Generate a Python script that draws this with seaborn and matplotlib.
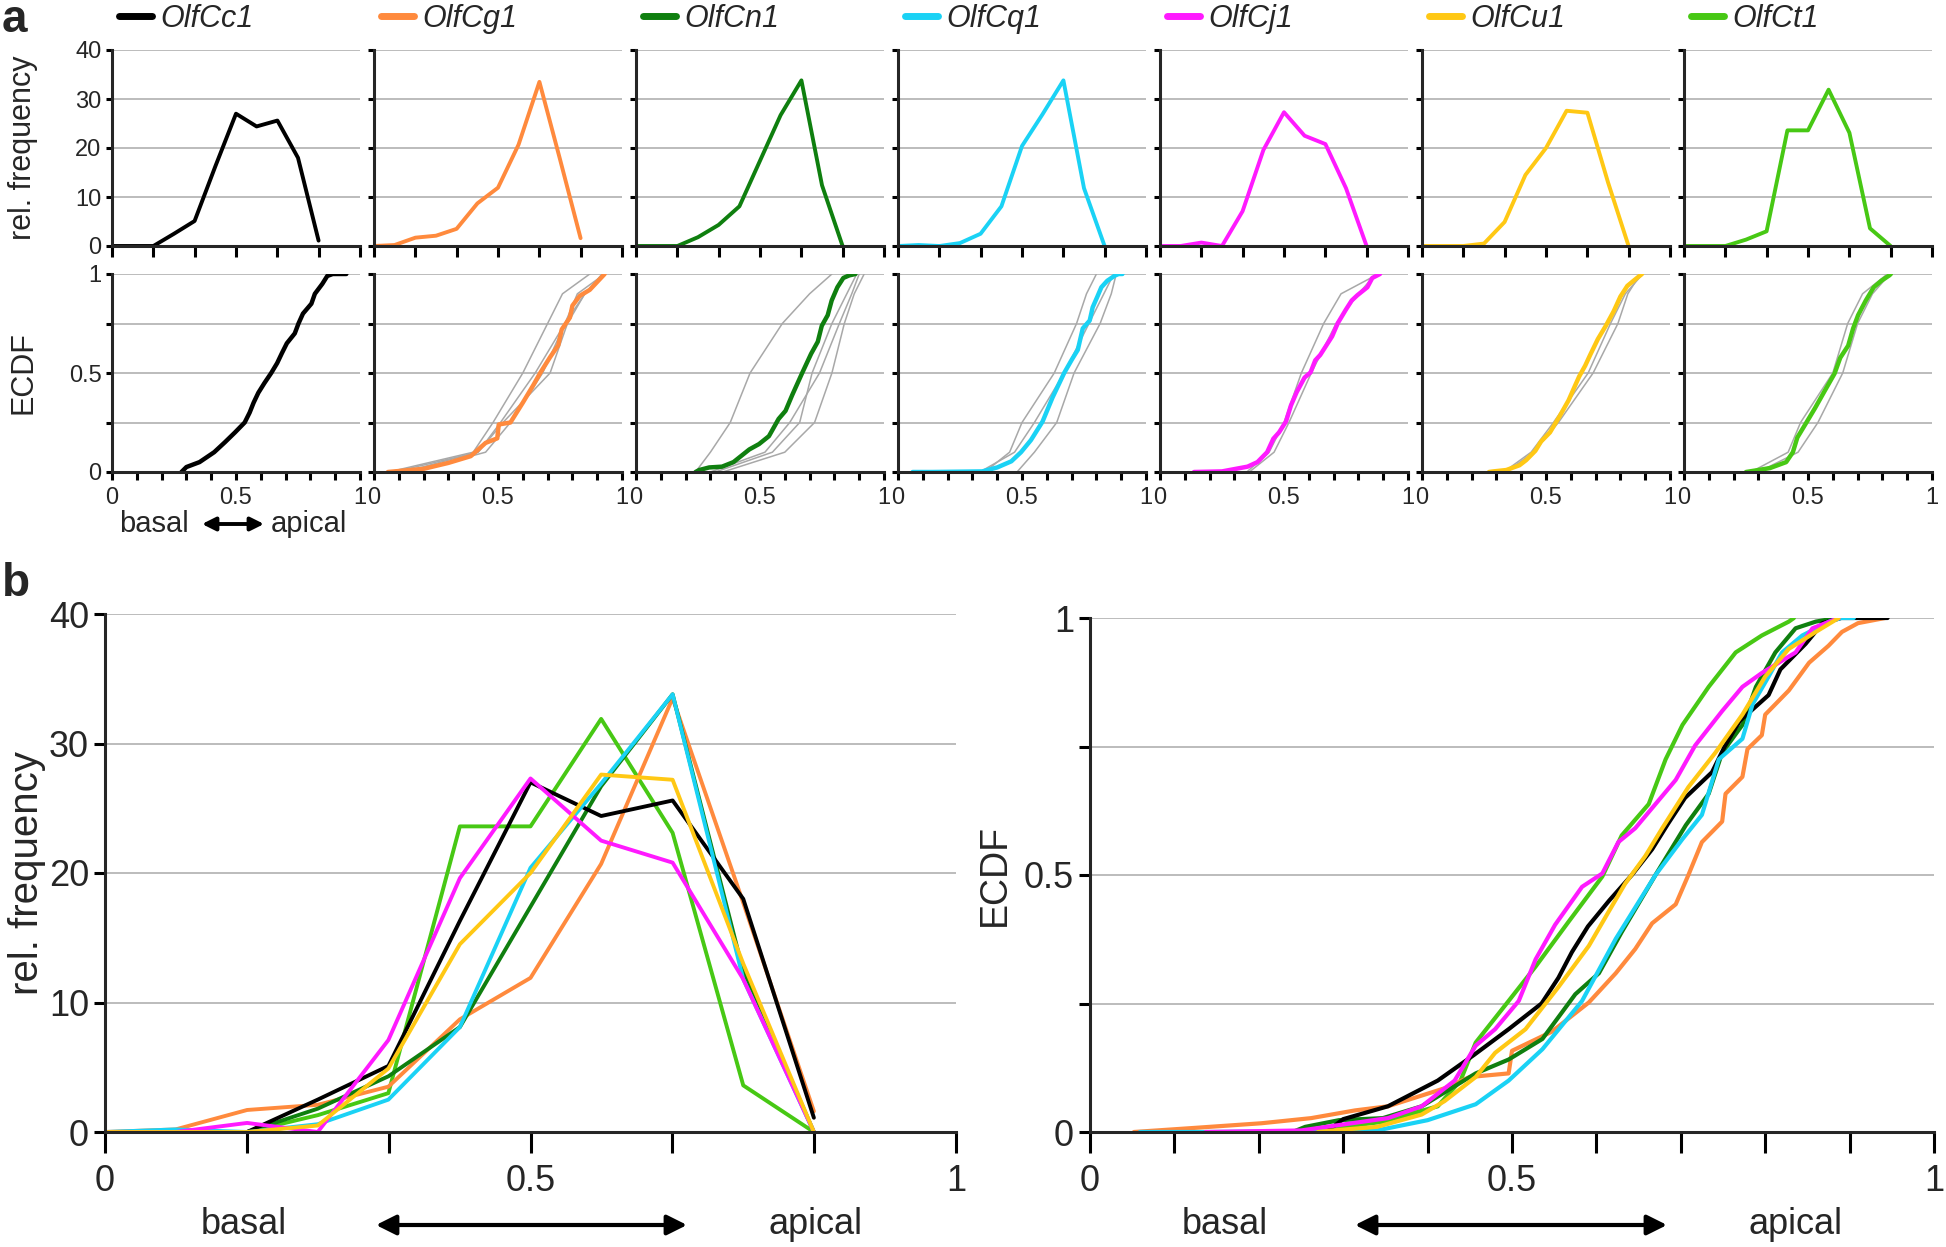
"""Olfactory receptor expression along the basal-apical axis: rel. frequency and ECDF."""
import matplotlib
matplotlib.use("Agg")
import matplotlib.pyplot as plt
import numpy as np
import pandas as pd
import seaborn as sns
from matplotlib.lines import Line2D

GENES = ["OlfCc1", "OlfCg1", "OlfCn1", "OlfCq1", "OlfCj1", "OlfCu1", "OlfCt1"]
COLORS = ["#000000", "#ff8a3d", "#0f7f0f", "#1ad2f5", "#ff1aff", "#ffc814", "#47c814"]
# drawing order of the overlaid panel b curves
B_ORDER = ["OlfCt1", "OlfCg1", "OlfCn1", "OlfCc1", "OlfCq1", "OlfCj1", "OlfCu1"]

# relative frequency per bin (basal 0 -> apical 1)
BIN_POS = [0.0, 0.083, 0.167, 0.25, 0.333, 0.417, 0.5, 0.583, 0.667, 0.75, 0.833]
FREQ_CC1 = [0, 0, 0, 2.5, 5.1, 16.3, 27.0, 24.4, 25.6, 18.0, 1.1]
FREQ_CG1 = [0, 0.2, 1.7, 2.1, 3.5, 8.7, 11.9, 20.7, 33.5, 17.7, 1.6]
FREQ_CN1 = [0, 0, 0, 1.8, 4.3, 8.1, 17.4, 26.7, 33.8, 12.4, 0]
FREQ_CQ1 = [0, 0.2, 0, 0.6, 2.5, 8.1, 20.4, 26.9, 33.8, 11.8, 0]
FREQ_CJ1 = [0, 0, 0.7, 0, 7.1, 19.6, 27.3, 22.5, 20.8, 11.8, 0]
FREQ_CU1 = [0, 0, 0, 0.5, 4.9, 14.5, 20.0, 27.6, 27.2, 13.0, 0]
FREQ_CT1 = [0, 0, 0, 1.3, 3.0, 23.6, 23.6, 31.9, 23.1, 3.6, 0]

# pooled ECDFs (knots)
ECDF_X_CC1 = [0.28, 0.30, 0.353, 0.412, 0.455, 0.496, 0.535, 0.555, 0.571, 0.59, 0.615, 0.642,
              0.666, 0.685, 0.705, 0.737, 0.752, 0.77, 0.804, 0.818, 0.848, 0.868, 0.89, 0.945]
ECDF_Y_CC1 = [0.0, 0.025, 0.05, 0.10, 0.15, 0.20, 0.25, 0.30, 0.35, 0.40, 0.45, 0.50,
              0.55, 0.60, 0.65, 0.70, 0.75, 0.80, 0.85, 0.90, 0.95, 0.99, 1.0, 1.0]
ECDF_X_CG1 = [0.052, 0.124, 0.203, 0.262, 0.314, 0.353, 0.42, 0.45, 0.496, 0.50, 0.547, 0.591,
              0.623, 0.646, 0.666, 0.694, 0.709, 0.725, 0.749, 0.753, 0.773, 0.779, 0.796, 0.80,
              0.828, 0.852, 0.875, 0.891, 0.91, 0.942]
ECDF_Y_CG1 = [0.0, 0.008, 0.017, 0.027, 0.042, 0.05, 0.085, 0.107, 0.114, 0.158, 0.195, 0.252,
              0.309, 0.356, 0.406, 0.443, 0.50, 0.564, 0.604, 0.658, 0.691, 0.745, 0.772, 0.812,
              0.859, 0.913, 0.946, 0.973, 0.99, 1.0]
ECDF_X_CN1 = [0.24, 0.255, 0.295, 0.347, 0.393, 0.457, 0.496, 0.536, 0.575, 0.603, 0.63, 0.67,
              0.706, 0.733, 0.749, 0.773, 0.789, 0.812, 0.836, 0.86, 0.885]
ECDF_Y_CN1 = [0.0, 0.01, 0.023, 0.027, 0.05, 0.114, 0.141, 0.181, 0.268, 0.309, 0.389, 0.50,
              0.597, 0.658, 0.738, 0.792, 0.866, 0.933, 0.98, 0.993, 1.0]
ECDF_X_CQ1 = [0.059, 0.137, 0.34, 0.40, 0.457, 0.496, 0.536, 0.583, 0.623, 0.67, 0.702, 0.725,
              0.745, 0.773, 0.785, 0.804, 0.82, 0.844, 0.876, 0.89, 0.905]
ECDF_Y_CQ1 = [0.0, 0.0, 0.003, 0.023, 0.054, 0.10, 0.161, 0.255, 0.376, 0.50, 0.57, 0.617,
              0.725, 0.765, 0.832, 0.886, 0.933, 0.966, 0.993, 1.0, 1.0]
ECDF_X_CJ1 = [0.137, 0.25, 0.353, 0.393, 0.432, 0.457, 0.48, 0.508, 0.528, 0.551, 0.583, 0.607,
              0.626, 0.646, 0.67, 0.694, 0.717, 0.749, 0.773, 0.796, 0.836, 0.856, 0.887]
ECDF_Y_CJ1 = [0.0, 0.003, 0.027, 0.05, 0.10, 0.168, 0.20, 0.255, 0.336, 0.403, 0.477, 0.503,
              0.564, 0.591, 0.638, 0.685, 0.752, 0.819, 0.866, 0.893, 0.933, 0.98, 1.0]
ECDF_X_CU1 = [0.27, 0.288, 0.34, 0.393, 0.42, 0.457, 0.48, 0.516, 0.555, 0.591, 0.615, 0.634,
              0.658, 0.678, 0.709, 0.741, 0.773, 0.80, 0.828, 0.86, 0.887]
ECDF_Y_CU1 = [0.0, 0.003, 0.01, 0.034, 0.06, 0.107, 0.154, 0.20, 0.282, 0.362, 0.43, 0.483,
              0.537, 0.591, 0.671, 0.738, 0.812, 0.886, 0.94, 0.973, 1.0]
ECDF_X_CT1 = [0.25, 0.30, 0.347, 0.412, 0.439, 0.457, 0.496, 0.528, 0.567, 0.607, 0.63, 0.662,
              0.682, 0.702, 0.733, 0.765, 0.796, 0.828, 0.834]
ECDF_Y_CT1 = [0.0, 0.01, 0.02, 0.05, 0.10, 0.174, 0.255, 0.322, 0.409, 0.497, 0.577, 0.638,
              0.725, 0.792, 0.866, 0.933, 0.966, 0.993, 1.0]

# OlfCg1 in panel a is drawn from a slightly different curve
ECDF_A_X_CG1 = [0.056, 0.20, 0.30, 0.39, 0.45, 0.497, 0.503, 0.55, 0.60, 0.643, 0.67, 0.71,
                0.743, 0.757, 0.79, 0.80, 0.83, 0.87, 0.93]
ECDF_A_Y_CG1 = [0.0, 0.016, 0.046, 0.08, 0.147, 0.17, 0.24, 0.25, 0.35, 0.44, 0.50, 0.58,
                0.64, 0.72, 0.78, 0.84, 0.89, 0.92, 1.0]

# individual replicates (grey), x position at each ECDF level
GRAY_LEVELS = [0.0, 0.1, 0.25, 0.5, 0.75, 0.9, 1.0]
GRAY_CC1 = []
GRAY_CG1 = [[0.06, 0.40, 0.48, 0.60, 0.70, 0.76, 0.87],
            [0.08, 0.42, 0.51, 0.65, 0.77, 0.82, 0.93],
            [0.12, 0.42, 0.52, 0.71, 0.78, 0.85, 0.92],
            [0.15, 0.45, 0.55, 0.68, 0.77, 0.85, 0.93]]
GRAY_CN1 = [[0.24, 0.30, 0.38, 0.46, 0.59, 0.70, 0.79],
            [0.32, 0.55, 0.66, 0.71, 0.79, 0.85, 0.89],
            [0.35, 0.60, 0.72, 0.79, 0.84, 0.88, 0.92],
            [0.30, 0.52, 0.62, 0.74, 0.82, 0.87, 0.90]]
GRAY_CQ1 = [[0.35, 0.45, 0.50, 0.63, 0.72, 0.76, 0.80],
            [0.48, 0.55, 0.64, 0.71, 0.815, 0.86, 0.88],
            [0.33, 0.47, 0.55, 0.67, 0.77, 0.83, 0.87]]
GRAY_CJ1 = [[0.35, 0.44, 0.50, 0.57, 0.66, 0.73, 0.88],
            [0.36, 0.46, 0.52, 0.61, 0.71, 0.80, 0.87]]
GRAY_CU1 = [[0.34, 0.45, 0.55, 0.69, 0.79, 0.83, 0.88],
            [0.33, 0.44, 0.53, 0.67, 0.76, 0.82, 0.89]]
GRAY_CT1 = [[0.27, 0.42, 0.47, 0.60, 0.66, 0.72, 0.82],
            [0.30, 0.46, 0.54, 0.64, 0.70, 0.76, 0.83]]

FREQS = [FREQ_CC1, FREQ_CG1, FREQ_CN1, FREQ_CQ1, FREQ_CJ1, FREQ_CU1, FREQ_CT1]
ECDF_X = [ECDF_X_CC1, ECDF_X_CG1, ECDF_X_CN1, ECDF_X_CQ1, ECDF_X_CJ1, ECDF_X_CU1, ECDF_X_CT1]
ECDF_Y = [ECDF_Y_CC1, ECDF_Y_CG1, ECDF_Y_CN1, ECDF_Y_CQ1, ECDF_Y_CJ1, ECDF_Y_CU1, ECDF_Y_CT1]
GRAYS = [GRAY_CC1, GRAY_CG1, GRAY_CN1, GRAY_CQ1, GRAY_CJ1, GRAY_CU1, GRAY_CT1]

W, H = 1946, 1247
GRID_COLOR = "#bcbcbc"
SPINE_W = 2.2

sns.set_style("ticks")
plt.rcParams["font.family"] = ["Liberation Sans", "DejaVu Sans"]
plt.rcParams["axes.linewidth"] = SPINE_W


def px_rect(x0, y_top, w, h):
    """Axes rectangle from pixel coordinates (origin top left)."""
    return [x0 / W, 1 - (y_top + h) / H, w / W, h / H]


def style_axes(ax, tick_size, tick_len):
    sns.despine(ax=ax)
    ax.yaxis.grid(True, color=GRID_COLOR, lw=1.4)
    ax.set_axisbelow(True)
    ax.tick_params(axis="both", which="both", direction="out", width=SPINE_W,
                   labelsize=tick_size, color="black")
    ax.tick_params(axis="x", which="both", length=tick_len)
    ax.tick_params(axis="y", which="both", length=4)
    ax.set_xlabel("")
    ax.set_ylabel("")


def set_ylabel_px(ax, text, size, right_px, ax_left, ax_width):
    """Place a y label so that its right edge sits at `right_px`."""
    ax.set_ylabel(text, fontsize=size)
    ax.yaxis.set_label_coords((right_px - ax_left) / ax_width, 0.5)


# Data frames
freq_df = pd.concat([pd.DataFrame({"gene": g, "pos": BIN_POS, "freq": f})
                     for g, f in zip(GENES, FREQS)], ignore_index=True)
ecdf_df = pd.concat([pd.DataFrame({"gene": g, "x": x, "y": y})
                     for g, x, y in zip(GENES, ECDF_X, ECDF_Y)], ignore_index=True)
ecdf_a_df = ecdf_df[ecdf_df["gene"] != "OlfCg1"]
ecdf_a_df = pd.concat([ecdf_a_df, pd.DataFrame({"gene": "OlfCg1", "x": ECDF_A_X_CG1,
                                                 "y": ECDF_A_Y_CG1})], ignore_index=True)
gray_df = pd.concat([pd.DataFrame({"gene": g, "rep": i, "x": xs, "y": GRAY_LEVELS})
                     for g, reps in zip(GENES, GRAYS) for i, xs in enumerate(reps)],
                    ignore_index=True)
palette = dict(zip(GENES, COLORS))

fig = plt.figure(figsize=(W / 100, H / 100), dpi=100)

# Panel a
for i, gene in enumerate(GENES):
    x0 = 112 + i * 262
    # frequency row
    ax = fig.add_axes(px_rect(x0, 50, 248, 196))
    sns.lineplot(data=freq_df[freq_df["gene"] == gene], x="pos", y="freq",
                 color=palette[gene], lw=2.8, estimator=None, sort=False, ax=ax)
    ax.set_xlim(0, 1)
    ax.set_ylim(0, 40)
    ax.set_xticks(np.linspace(0, 1, 7))
    ax.set_xticklabels([])
    ax.set_yticks([0, 10, 20, 30, 40])
    style_axes(ax, 17, 8)
    if i == 0:
        set_ylabel_px(ax, "rel. frequency", 22, 38, x0, 248)
    else:
        ax.set_yticklabels([])
    ax.legend(handles=[Line2D([], [], color=palette[gene], lw=5)], labels=[gene],
              loc="center left", bbox_to_anchor=(0.03, 1.16), frameon=False,
              borderpad=0, borderaxespad=0, handlelength=1.05, handletextpad=0.3,
              prop={"style": "italic", "size": 22})

    # ECDF row
    ax = fig.add_axes(px_rect(x0, 274, 248, 198))
    reps = gray_df[gray_df["gene"] == gene]
    if len(reps):
        sns.lineplot(data=reps, x="x", y="y", units="rep", color="#a8a8a8", lw=1.1,
                     estimator=None, sort=False, ax=ax)
    sns.lineplot(data=ecdf_a_df[ecdf_a_df["gene"] == gene], x="x", y="y",
                 color=palette[gene], lw=3.2, estimator=None, sort=False, ax=ax)
    ax.set_xlim(0, 1)
    ax.set_ylim(0, 1)
    ax.set_xticks([0, 0.5, 1])
    ax.set_xticklabels(["0", "0.5", "1"])
    ax.set_xticks(np.linspace(0, 1, 11), minor=True)
    ax.set_yticks([0, 0.25, 0.5, 0.75, 1])
    style_axes(ax, 17, 6)
    ax.tick_params(axis="x", which="major", pad=5)
    if i == 0:
        ax.set_yticklabels(["0", "", "0.5", "", "1"])
        set_ylabel_px(ax, "ECDF", 22, 38, x0, 248)
    else:
        ax.set_yticklabels([])

# Panel b, relative frequency
ax = fig.add_axes(px_rect(105, 614, 851, 518))
for gene in B_ORDER:
    sns.lineplot(data=freq_df[freq_df["gene"] == gene], x="pos", y="freq",
                 color=palette[gene], lw=2.8, estimator=None, sort=False, ax=ax)
ax.set_xlim(0, 1)
ax.set_ylim(0, 40)
ax.set_xticks([0, 0.5, 1])
ax.set_xticklabels(["0", "0.5", "1"])
ax.set_xticks([1 / 6, 2 / 6, 4 / 6, 5 / 6], minor=True)
ax.set_yticks([0, 10, 20, 30, 40])
style_axes(ax, 26, 15)
ax.tick_params(axis="y", which="both", length=8)
ax.tick_params(axis="x", which="major", pad=8)
set_ylabel_px(ax, "rel. frequency", 29, 46, 105, 851)

# Panel b, ECDF
ax = fig.add_axes(px_rect(1090, 618, 844, 514))
for gene in B_ORDER:
    sns.lineplot(data=ecdf_df[ecdf_df["gene"] == gene], x="x", y="y",
                 color=palette[gene], lw=3.0, estimator=None, sort=False, ax=ax)
ax.set_xlim(0, 1)
ax.set_ylim(0, 1)
ax.set_xticks([0, 0.5, 1])
ax.set_xticklabels(["0", "0.5", "1"])
ax.set_xticks(np.linspace(0, 1, 11), minor=True)
ax.set_yticks([0, 0.25, 0.5, 0.75, 1])
ax.set_yticklabels(["0", "", "0.5", "", "1"])
style_axes(ax, 26, 15)
ax.tick_params(axis="y", which="both", length=8)
ax.tick_params(axis="x", which="major", pad=8)
set_ylabel_px(ax, "ECDF", 27, 1013, 1090, 844)


def axis_caption(x_basal, x_apical, x_arrow0, x_arrow1, y, size, lw, head):
    """'basal <-> apical' caption below an x axis (pixel coordinates)."""
    yf = 1 - y / H
    fig.text(x_basal / W, yf, "basal", ha="center", va="center", fontsize=size)
    fig.text(x_apical / W, yf, "apical", ha="center", va="center", fontsize=size)
    fig.add_artist(matplotlib.patches.FancyArrowPatch(
        (x_arrow0 / W, yf), (x_arrow1 / W, yf), transform=fig.transFigure,
        arrowstyle="<|-|>", mutation_scale=head, lw=lw, color="black",
        shrinkA=0, shrinkB=0))


axis_caption(154, 309, 202, 264, 524, 21, 2.8, 20)
axis_caption(244, 815, 376, 687, 1225, 26, 3.0, 30)
axis_caption(1225, 1796, 1355, 1667, 1225, 26, 3.0, 30)

fig.text(2 / W, 1 - 20 / H, "a", fontsize=33, fontweight="bold", ha="left", va="center")
fig.text(2 / W, 1 - 584 / H, "b", fontsize=33, fontweight="bold", ha="left", va="center")

fig.savefig("out.png", dpi=100)
